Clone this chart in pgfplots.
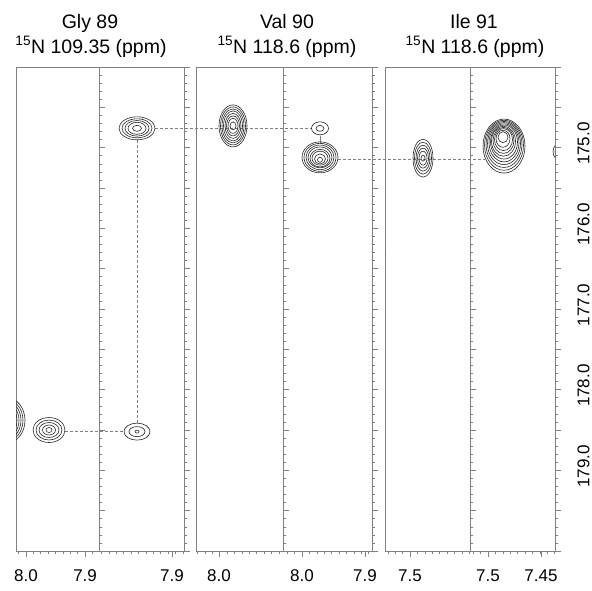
\documentclass[border=0pt]{standalone}
\usepackage{fontspec}
\setmainfont{Liberation Sans}
\usepackage{pgfplots}
\pgfplotsset{compat=1.18}
\usepackage{pgfplotstable}

\pgfdeclareplotmark{ring}{%
  \pgfpathellipse{\pgfpoint{\dx pt}{0pt}}{\pgfpoint{\rx pt}{0pt}}{\pgfpoint{0pt}{\ry pt}}%
  \pgfusepathqstroke}

% contour rings: x (px position), y (ppm), rx, ry (pt), dx = centre offset (pt)
\pgfplotstableread{
x y rx ry dx
137 174.76 18 11.5 0
137 174.76 15 9.5 0
137 174.76 12 7.8 0
137 174.76 9 6 0
137 174.76 4.5 3 0
137 178.52 13 8.5 0
137 178.52 8 5 0
137 178.52 2 1.5 0
49 178.50 16 12.5 0
49 178.50 13 10 0
49 178.50 10 7.5 0
49 178.50 6.5 5 0
49 178.50 3 2.5 0
16.5 178.38 19 23 -10.5
16.5 178.38 17 21 -10.5
16.5 178.38 15 19 -10.5
16.5 178.38 13 17 -10.5
16.5 178.38 11 15 -10.5
16.5 178.38 9 13 -10.5
16.5 178.38 7 11 -10.5
16.5 178.38 5 9 -10.5
233 174.73 14 21 0
233 174.73 12.5 19 0
233 174.73 11 17 0
233 174.73 9.5 15 0
233 174.73 8 12.5 0
233 174.73 6.5 10 0
233 174.73 5 7.5 0
233 174.73 3 4 0
320 174.76 8.5 6.5 0
320 174.76 4 3 0
320 175.12 18 15.5 0
320 175.12 16 14 0
320 175.12 14 12.3 0
320 175.12 12 10.5 0
320 175.13 10 8.8 0
320 175.13 8 7 0
320 175.14 5.5 5 0
320 175.15 2.5 2.5 0
423 175.13 10 19 0
423 175.13 8.5 16 0
423 175.13 7 13 0
423 175.13 5.5 10 0
423 175.13 4 7 0
423 175.13 2 3 0
504 174.98 21 27 0
504 174.97 19.5 25 0
504 174.96 18 23 0
504 174.95 16.5 21 0
504 174.94 15 19 0
504 174.93 13.5 17 0
503.5 174.92 12 15 0
503.5 174.91 10.5 13 0
503.5 174.90 9 11 0
503 174.89 7 8.5 0
503 174.87 5 5.5 0
554.5 175.05 8 9 6.5
554.5 175.05 6 7 6.5
554.5 175.05 4 5 6.5
385.5 176.33 4 3.5 -4.5
}\contours

\pgfplotsset{
  strip/.style={
    scale only axis, height=484pt, anchor=north west,
    y dir=reverse, ymin=174, ymax=180,
    axis line style={gray, line width=0.9pt},
    ytick={174,174.5,...,180}, minor y tick num=4,
    ytick pos=right, yticklabels={},
    xtick pos=left, tick align=outside,
    major tick length=6pt, minor tick length=3pt,
    every tick/.style={gray, line width=0.7pt},
    every minor tick/.style={gray, line width=0.6pt},
    tick label style={font=\fontsize{17}{17}\selectfont, black},
    xticklabel style={yshift=-9pt},
    clip marker paths=true,
  },
  peaks/.style={only marks, mark=ring,
    mark options={draw=black!85, line width=0.6pt, solid},
    visualization depends on={\thisrow{rx}\as\rx},
    visualization depends on={\thisrow{ry}\as\ry},
    visualization depends on={\thisrow{dx}\as\dx}},
}

\begin{document}
\begin{tikzpicture}
\useasboundingbox (0pt,0pt) rectangle (592pt,-590pt);

% titles
\begin{scope}[font=\fontsize{19.5}{22}\selectfont, anchor=base]
\node at (90pt,-28pt) {Gly 89};
\node at (91pt,-53pt) {\textsuperscript{15}N 109.35 (ppm)};
\node at (287pt,-28pt) {Val 90};
\node at (287pt,-53pt) {\textsuperscript{15}N 118.6 (ppm)};
\node at (474pt,-28pt) {Ile 91};
\node at (475pt,-53pt) {\textsuperscript{15}N 118.6 (ppm)};
\end{scope}

% dashed connectors
\begin{axis}[at={(16pt,-67pt)}, anchor=north west, scale only axis,
  width=539pt, height=484pt, xmin=16, xmax=555, ymin=174, ymax=180,
  y dir=reverse, axis lines=none, clip=false]
\addplot[gray, dash pattern=on 3pt off 2pt, line width=0.9pt] coordinates {(155,174.76) (312,174.76)};
\addplot[gray, dash pattern=on 3pt off 2pt, line width=0.9pt] coordinates {(137,174.91) (137,178.42)};
\addplot[gray, dash pattern=on 3pt off 2pt, line width=0.9pt] coordinates {(65,178.52) (124,178.52)};
\addplot[gray, dash pattern=on 3pt off 2pt, line width=0.9pt] coordinates {(338,175.15) (485,175.15)};
\addplot[gray, line width=0.9pt] coordinates {(320,174.85) (320,174.95)};
\end{axis}

% Gly 89
\begin{axis}[strip, at={(16pt,-67pt)}, width=83pt, xmin=16, xmax=99,
  xtick={25.9,85.1}, xticklabels={8.0,7.9},
  minor xtick={18.5,25.9,...,98}]
\addplot[peaks] table[x=x,y=y] {\contours};
\end{axis}
\begin{axis}[strip, at={(99pt,-67pt)}, width=85pt, xmin=99, xmax=184,
  xtick={172}, xticklabels={7.9},
  minor xtick={101.5,108.9,...,183}]
\addplot[peaks] table[x=x,y=y] {\contours};
\end{axis}

% Val 90
\begin{axis}[strip, at={(196pt,-67pt)}, width=87pt, xmin=196, xmax=283,
  xtick={219}, xticklabels={8.0},
  minor xtick={197.5,204.9,...,282}]
\addplot[peaks] table[x=x,y=y] {\contours};
\end{axis}
\begin{axis}[strip, at={(283pt,-67pt)}, width=89pt, xmin=283, xmax=372,
  xtick={302,365}, xticklabels={8.0,7.9},
  minor xtick={287.2,294.6,...,371}]
\addplot[peaks] table[x=x,y=y] {\contours};
\end{axis}

% Ile 91
\begin{axis}[strip, at={(385pt,-67pt)}, width=85pt, xmin=385, xmax=470,
  xtick={410}, xticklabels={7.5},
  minor xtick={387.8,395.2,...,469}]
\addplot[peaks] table[x=x,y=y] {\contours};
\end{axis}
\begin{axis}[strip, at={(470pt,-67pt)}, width=85pt, xmin=470, xmax=555,
  xtick={488,541}, xticklabels={7.5,7.45},
  minor xtick={473.2,480.6,...,554},
  yticklabels={,,175.0,,176.0,,177.0,,178.0,,179.0,,},
  yticklabel style={rotate=90, anchor=north, xshift=4pt, yshift=-13pt}]
\addplot[peaks] table[x=x,y=y] {\contours};
\end{axis}
\end{tikzpicture}
\end{document}
